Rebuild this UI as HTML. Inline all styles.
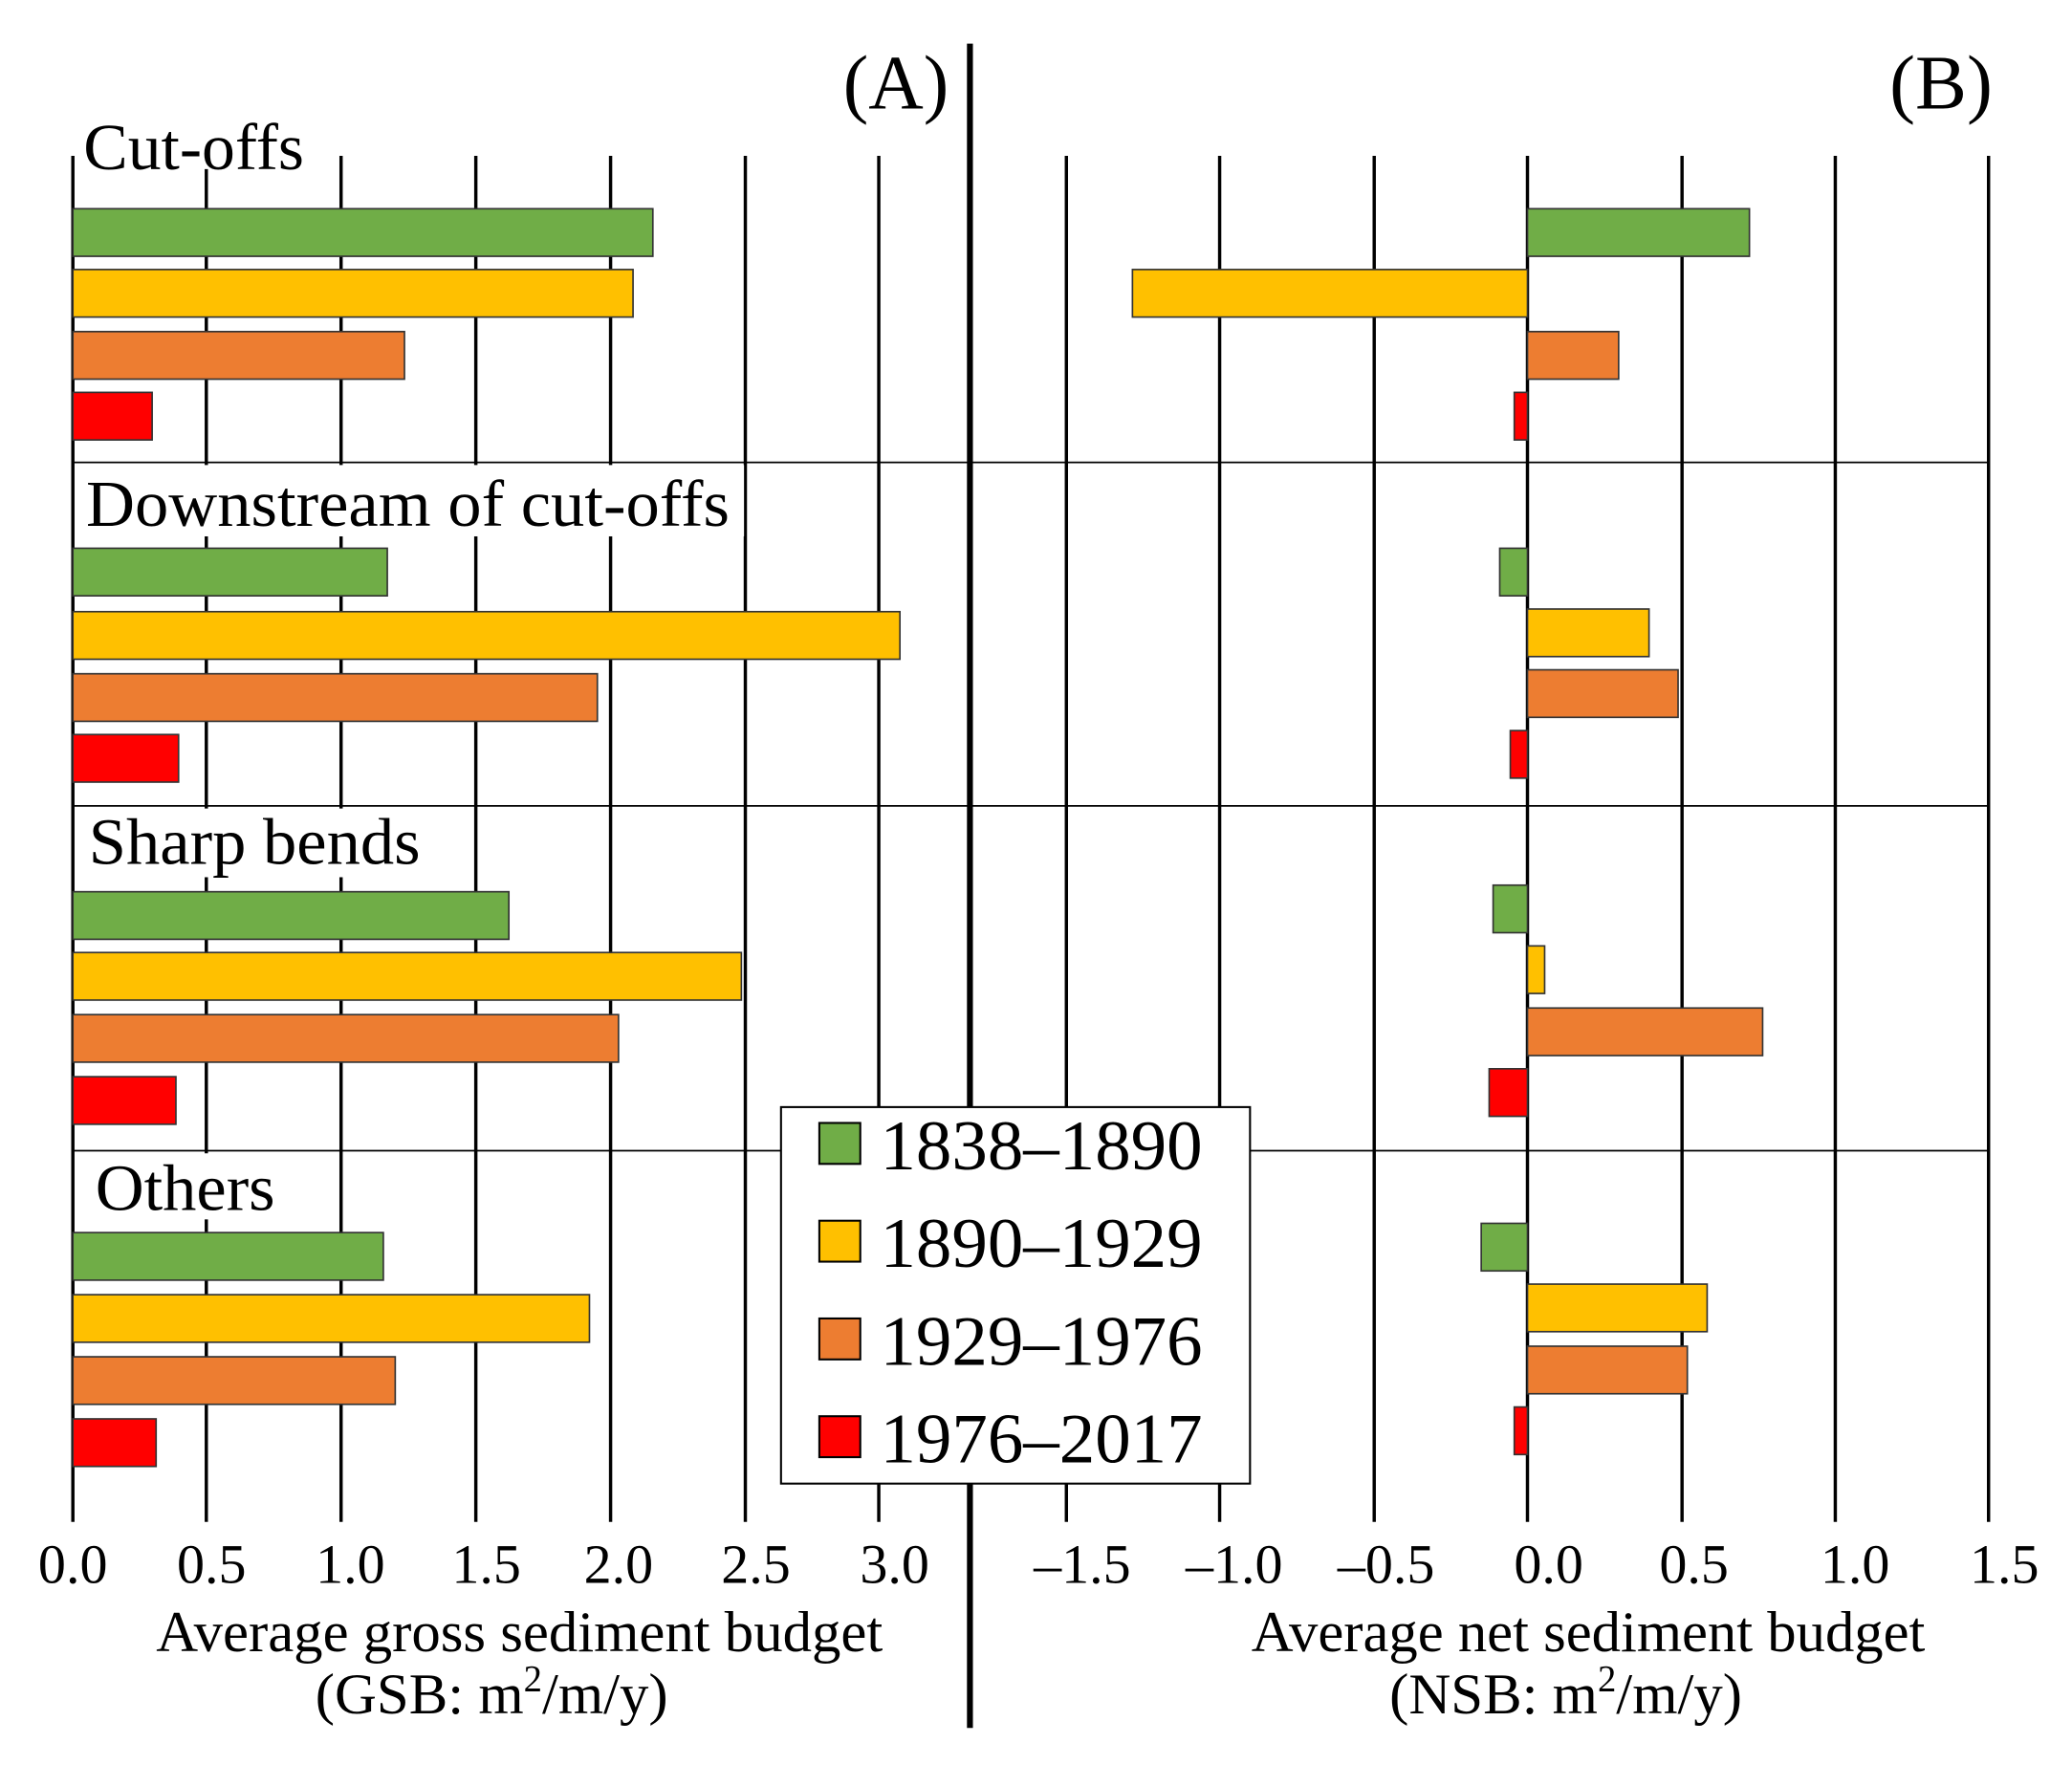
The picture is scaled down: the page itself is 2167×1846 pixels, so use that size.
<!DOCTYPE html>
<html><head><meta charset="utf-8"><style>html,body{margin:0;padding:0;background:#fff}svg{display:block}</style></head>
<body>
<svg width="2167" height="1846" viewBox="0 0 1568 1336" xmlns="http://www.w3.org/2000/svg" font-family="'Liberation Serif', serif">
<rect width="1568" height="1336" fill="#fff"/>
<g stroke="#000" stroke-width="2.5">
<line x1="55" y1="118" x2="55" y2="1152"/>
<line x1="156" y1="118" x2="156" y2="1152"/>
<line x1="258" y1="118" x2="258" y2="1152"/>
<line x1="360" y1="118" x2="360" y2="1152"/>
<line x1="462" y1="118" x2="462" y2="1152"/>
<line x1="564" y1="118" x2="564" y2="1152"/>
<line x1="665" y1="118" x2="665" y2="1152"/>
<line x1="807" y1="118" x2="807" y2="1152"/>
<line x1="923" y1="118" x2="923" y2="1152"/>
<line x1="1040" y1="118" x2="1040" y2="1152"/>
<line x1="1156" y1="118" x2="1156" y2="1152"/>
<line x1="1273" y1="118" x2="1273" y2="1152"/>
<line x1="1389" y1="118" x2="1389" y2="1152"/>
<line x1="1505" y1="118" x2="1505" y2="1152"/>
</g>
<g stroke="#000" stroke-width="1.3">
<line x1="55" y1="350" x2="1505" y2="350"/>
<line x1="55" y1="610" x2="1505" y2="610"/>
<line x1="55" y1="871" x2="1505" y2="871"/>
</g>
<line x1="734" y1="33" x2="734" y2="1308" stroke="#000" stroke-width="4.5"/>
<g fill="#fff">
<rect x="57" y="88" width="176" height="40"/>
<rect x="57" y="352" width="506" height="54"/>
<rect x="57" y="612" width="264" height="52"/>
<rect x="57" y="873" width="154" height="50"/>
</g>
<g font-size="50" fill="#000">
<text x="63" y="128" textLength="167" lengthAdjust="spacingAndGlyphs">Cut-offs</text>
<text x="65" y="398" textLength="487" lengthAdjust="spacingAndGlyphs">Downstream of cut-offs</text>
<text x="67" y="654" textLength="251" lengthAdjust="spacingAndGlyphs">Sharp bends</text>
<text x="72" y="916" textLength="136" lengthAdjust="spacingAndGlyphs">Others</text>
</g>
<text x="638" y="82" font-size="58" textLength="80" lengthAdjust="spacingAndGlyphs">(A)</text>
<text x="1430" y="82" font-size="58" textLength="78" lengthAdjust="spacingAndGlyphs">(B)</text>
<g stroke="#333" stroke-width="1.2">
<rect x="55" y="158" width="439" height="36" fill="#70ad47"/>
<rect x="55" y="204" width="424" height="36" fill="#ffc000"/>
<rect x="55" y="251" width="251" height="36" fill="#ed7d31"/>
<rect x="55" y="297" width="60" height="36" fill="#ff0000"/>
<rect x="55" y="415" width="238" height="36" fill="#70ad47"/>
<rect x="55" y="463" width="626" height="36" fill="#ffc000"/>
<rect x="55" y="510" width="397" height="36" fill="#ed7d31"/>
<rect x="55" y="556" width="80" height="36" fill="#ff0000"/>
<rect x="55" y="675" width="330" height="36" fill="#70ad47"/>
<rect x="55" y="721" width="506" height="36" fill="#ffc000"/>
<rect x="55" y="768" width="413" height="36" fill="#ed7d31"/>
<rect x="55" y="815" width="78" height="36" fill="#ff0000"/>
<rect x="55" y="933" width="235" height="36" fill="#70ad47"/>
<rect x="55" y="980" width="391" height="36" fill="#ffc000"/>
<rect x="55" y="1027" width="244" height="36" fill="#ed7d31"/>
<rect x="55" y="1074" width="63" height="36" fill="#ff0000"/>
<rect x="1156" y="158" width="168" height="36" fill="#70ad47"/>
<rect x="857" y="204" width="299" height="36" fill="#ffc000"/>
<rect x="1156" y="251" width="69" height="36" fill="#ed7d31"/>
<rect x="1146" y="297" width="10" height="36" fill="#ff0000"/>
<rect x="1135" y="415" width="21" height="36" fill="#70ad47"/>
<rect x="1156" y="461" width="92" height="36" fill="#ffc000"/>
<rect x="1156" y="507" width="114" height="36" fill="#ed7d31"/>
<rect x="1143" y="553" width="13" height="36" fill="#ff0000"/>
<rect x="1130" y="670" width="26" height="36" fill="#70ad47"/>
<rect x="1156" y="716" width="13" height="36" fill="#ffc000"/>
<rect x="1156" y="763" width="178" height="36" fill="#ed7d31"/>
<rect x="1127" y="809" width="29" height="36" fill="#ff0000"/>
<rect x="1121" y="926" width="35" height="36" fill="#70ad47"/>
<rect x="1156" y="972" width="136" height="36" fill="#ffc000"/>
<rect x="1156" y="1019" width="121" height="36" fill="#ed7d31"/>
<rect x="1146" y="1065" width="10" height="36" fill="#ff0000"/>
</g>
<rect x="591" y="838" width="355" height="285" fill="#fff" stroke="#000" stroke-width="1.5"/>
<g stroke="#000" stroke-width="1.5">
<rect x="620" y="850" width="31" height="31" fill="#70ad47"/>
<rect x="620" y="924" width="31" height="31" fill="#ffc000"/>
<rect x="620" y="998" width="31" height="31" fill="#ed7d31"/>
<rect x="620" y="1072" width="31" height="31" fill="#ff0000"/>
</g>
<g font-size="54" fill="#000">
<text x="666" y="885" textLength="244" lengthAdjust="spacingAndGlyphs">1838–1890</text>
<text x="666" y="959" textLength="244" lengthAdjust="spacingAndGlyphs">1890–1929</text>
<text x="666" y="1033" textLength="244" lengthAdjust="spacingAndGlyphs">1929–1976</text>
<text x="666" y="1107" textLength="244" lengthAdjust="spacingAndGlyphs">1976–2017</text>
</g>
<g font-size="42" fill="#000" text-anchor="middle">
<text x="55" y="1198">0.0</text>
<text x="160" y="1198">0.5</text>
<text x="265" y="1198">1.0</text>
<text x="368" y="1198">1.5</text>
<text x="468" y="1198">2.0</text>
<text x="572" y="1198">2.5</text>
<text x="677" y="1198">3.0</text>
<text x="819" y="1198">–1.5</text>
<text x="934" y="1198">–1.0</text>
<text x="1049" y="1198">–0.5</text>
<text x="1172" y="1198">0.0</text>
<text x="1282" y="1198">0.5</text>
<text x="1404" y="1198">1.0</text>
<text x="1517" y="1198">1.5</text>
<text x="393" y="1250" font-size="44" textLength="550" lengthAdjust="spacingAndGlyphs">Average gross sediment budget</text>
<text x="372" y="1297" font-size="44">(GSB: m<tspan font-size="28" dy="-17">2</tspan><tspan dy="17">/m/y)</tspan></text>
<text x="1202" y="1250" font-size="44" textLength="510" lengthAdjust="spacingAndGlyphs">Average net sediment budget</text>
<text x="1185" y="1297" font-size="44">(NSB: m<tspan font-size="28" dy="-17">2</tspan><tspan dy="17">/m/y)</tspan></text>
</g>
</svg>
</body></html>
